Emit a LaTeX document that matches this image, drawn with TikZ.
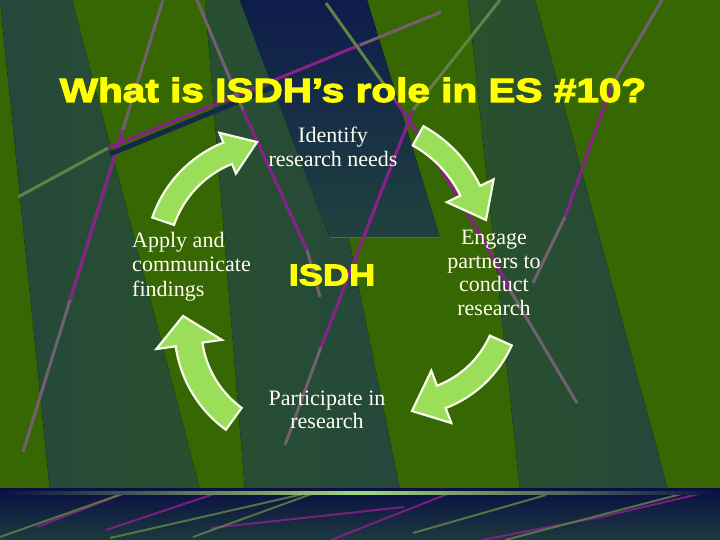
\documentclass[tikz,border=0pt]{standalone}
\usepackage{fontspec}
\setmainfont{Liberation Serif}
\newfontfamily\headfont{Liberation Sans}[FakeStretch=1.21,FakeBold=3.5]
\usepackage{tikz}
\usetikzlibrary{calc,positioning}

\definecolor{slidegreen}{RGB}{54,103,3}
\definecolor{stripeteal}{RGB}{36,72,60}
\definecolor{stripenavy}{RGB}{14,28,76}
\definecolor{linepurple}{RGB}{138,32,138}
\definecolor{linemauve}{RGB}{112,96,112}
\definecolor{linegreen}{RGB}{96,130,70}
\definecolor{bandnavy}{RGB}{10,16,66}
\definecolor{bandteal}{RGB}{28,58,62}
\definecolor{bandline}{RGB}{165,215,125}
\definecolor{arrowfill}{RGB}{155,222,90}
\definecolor{arrowrim}{RGB}{250,252,235}
\definecolor{titleyellow}{RGB}{255,255,0}
\definecolor{labelcream}{RGB}{255,255,240}

% #1 centre, #2 radius, #3 start, #4 end, #5 half shaft, #6 half head, #7 tip angle, #8 tip radius
\newcommand{\turnarrow}[8]{%
  \pgfmathsetmacro\outr{#2+#5}%
  \pgfmathsetmacro\innr{#2-#5}%
  \pgfmathsetmacro\barbo{#2+#6}%
  \pgfmathsetmacro\barbi{#2-#6}%
  \draw[cyclearrow] ($(#1)+(#3:\outr)$)
    arc[start angle=#3, end angle=#4, radius=\outr]
    -- ($(#1)+(#4:\barbo)$) -- ($(#1)+(#7:#8)$)
    -- ($(#1)+(#4:\barbi)$) -- ($(#1)+(#4:\innr)$)
    arc[start angle=#4, end angle=#3, radius=\innr] -- cycle;}

\begin{document}
\begin{tikzpicture}[%
    x=1pt, y=1pt,
    node distance=130pt,
    on grid,
    cyclelabel/.style={text=labelcream, font=\fontsize{22}{23.5}\selectfont, align=center},
    hub/.style={text=titleyellow, font=\headfont\bfseries\fontsize{30}{30}\selectfont},
    headline/.style={text=titleyellow, font=\headfont\bfseries\fontsize{33.5}{36}\selectfont},
    cyclearrow/.style={fill=arrowfill, draw=arrowrim, line width=2.2pt, line join=miter},
    bgline/.style={line width=3pt, draw=#1}
  ]
  \useasboundingbox (0,0) rectangle (720,540);

  \fill[slidegreen] (0,0) rectangle (720,540);
  \fill[left color=stripeteal, right color=stripeteal!75!slidegreen]
    (0,540) -- (72,540) -- (200,50) -- (50,50) -- cycle;
  \fill[left color=stripeteal!80!slidegreen, right color=stripeteal]
    (205,540) -- (300,540) -- (400,50) -- (245,50) -- cycle;
  \fill[top color=stripenavy, bottom color=stripeteal!85!stripenavy]
    (240,540) -- (367,540) -- (440,302) -- (330,302) -- cycle;
  \fill[left color=stripeteal!70!slidegreen, right color=stripeteal]
    (468,540) -- (535,540) -- (668,50) -- (520,50) -- cycle;
  \draw[linegreen!50!slidegreen, line width=1pt] (330,302) -- (440,302);

  \draw[bgline=linemauve] (163,540) -- (23,88);
  \draw[bgline=linepurple] (122.7,410) -- (70,240);
  \draw[bgline=linegreen] (18,343) -- (108,392);
  \draw[line width=5pt, stripenavy!70!stripeteal] (110,386) -- (320,472);
  \draw[bgline=linepurple] (108,392) -- (360,495);
  \draw[bgline=linemauve] (360,495) -- (441,528);
  \draw[bgline=linemauve] (197,540) -- (243,430);
  \draw[bgline=linepurple] (243,430) -- (307,290);
  \draw[bgline=linemauve] (307,290) -- (320,243);
  \draw[bgline=linegreen] (326,537) -- (395,440);
  \draw[bgline=linepurple] (395,440) .. controls (430,390) and (480,310) .. (510,250);
  \draw[bgline=linemauve] (510,250) -- (577,137);
  \draw[bgline=linegreen] (500,540) -- (413,430);
  \draw[bgline=linepurple] (413,430) -- (321,193);
  \draw[bgline=linemauve] (321,193) -- (285,95);
  \draw[bgline=linemauve] (662,540) -- (611,453);
  \draw[bgline=linepurple] (611,453) -- (565,323);
  \draw[bgline=linemauve] (565,323) -- (533,257);

  \fill[top color=bandnavy, bottom color=bandteal] (0,0) rectangle (720,51);
  \begin{scope}
    \clip (0,0) rectangle (720,46);
    \draw[line width=2pt, linepurple, opacity=.85] (37,13) -- (133,50);
    \draw[line width=2pt, linepurple, opacity=.85] (106,10) -- (220,48);
    \draw[line width=2pt, linepurple, opacity=.85] (211,12) -- (404,33);
    \draw[line width=2pt, linepurple, opacity=.85] (331,0) -- (450,47);
    \draw[line width=2pt, linepurple, opacity=.85] (482,0) -- (601,23) -- (716,50);
    \draw[line width=2pt, linegreen, opacity=.85] (0,3) -- (133,50);
    \draw[line width=2pt, linegreen, opacity=.85] (110,2) -- (321,50);
    \draw[line width=2pt, linegreen, opacity=.85] (193,3) -- (317,48);
    \draw[line width=2pt, linegreen, opacity=.85] (413,7) -- (546,45);
    \draw[line width=2pt, linegreen, opacity=.85] (505,0) -- (689,48);
  \end{scope}
  \fill[left color=bandnavy, right color=bandnavy, middle color=bandline]
    (0,45.5) rectangle (720,48.5);

  \coordinate (turnA) at (270,282);
  \coordinate (turnB) at (357,294);
  \coordinate (turnC) at (403,243);
  \coordinate (turnD) at (299,211);
  \turnarrow{turnA}{113}{161}{112}{11.5}{22}{96.4}{116.7}
  \turnarrow{turnB}{126}{61}{26}{11}{26}{11.4}{131.6}
  \turnarrow{turnC}{107}{-24}{-69}{12}{28}{-85.5}{114.4}
  \turnarrow{turnD}{111}{234}{188}{13.5}{33}{173.6}{116.7}

  \node[headline] (heading) at (353,450) {What is ISDH’s role in ES \#10?};
  \node[hub] (isdh) at (332,265) {ISDH};
  \node[cyclelabel] (identify) [above=128pt of isdh, xshift=1pt] {Identify\\research needs};
  \node[cyclelabel] (engage) [right=162pt of isdh, yshift=2pt] {Engage\\partners to\\conduct\\research};
  \node[cyclelabel] (participate) [below=135pt of isdh, xshift=-5pt] {Participate in\\research};
  \node[cyclelabel, align=left, font=\fontsize{22}{24.5}\selectfont] (apply) [left=140.5pt of isdh, yshift=8.5pt] {Apply and\\communicate\\findings};
\end{tikzpicture}
\end{document}
